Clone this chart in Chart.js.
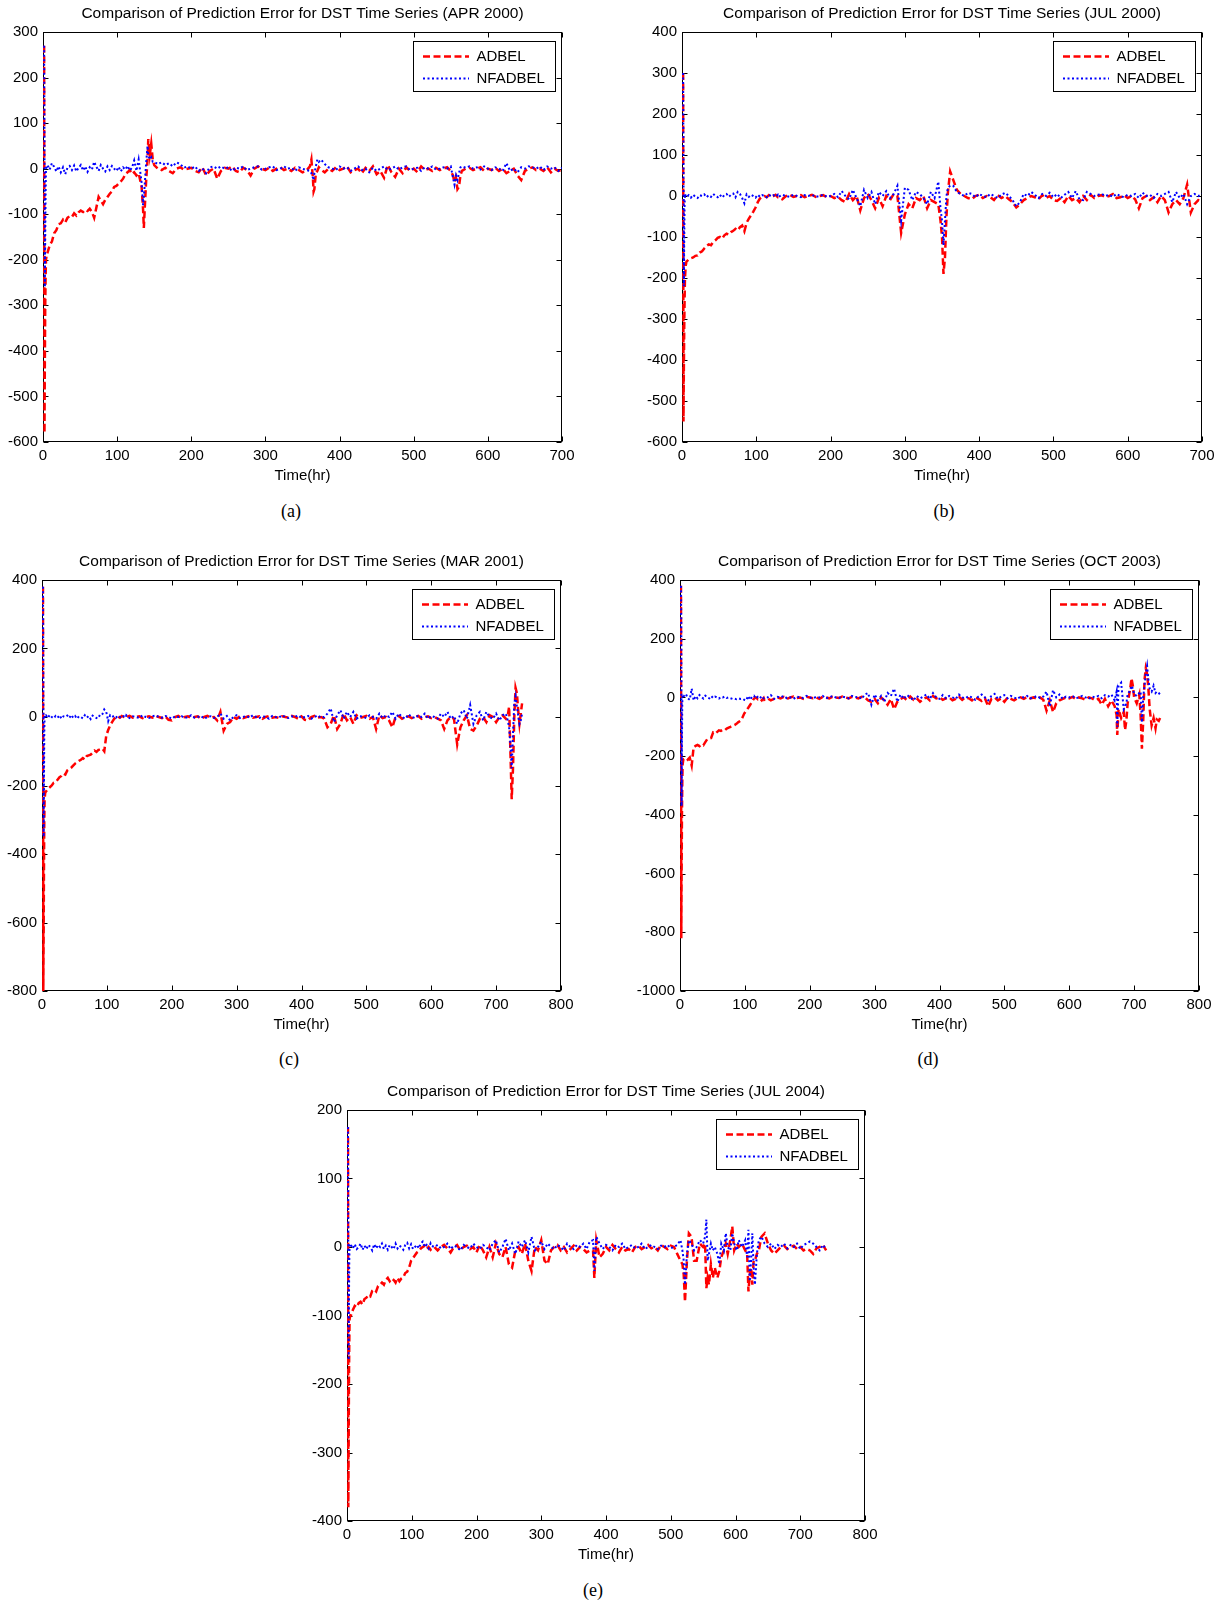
<!DOCTYPE html>
<html>
<head>
<meta charset="utf-8">
<title>Comparison of Prediction Error for DST Time Series</title>
<script src="https://cdn.jsdelivr.net/npm/chart.js@4.4.1/dist/chart.umd.min.js"></script>
<style>
  html, body { margin: 0; padding: 0; background: #fff; }
  body { width: 1224px; height: 1603px; position: relative; overflow: hidden; }
  canvas { position: absolute; }
  .caption {
    position: absolute;
    font-family: "Liberation Serif", "DejaVu Serif", serif;
    font-size: 18px;
    color: #000;
    transform: translate(-50%, -50%);
  }
</style>
</head>
<body>
<canvas id="chartA" width="591" height="494" style="left:-7px;top:-2px"></canvas>
<canvas id="chartB" width="592" height="494" style="left:632px;top:-2px"></canvas>
<canvas id="chartC" width="591" height="495" style="left:-8px;top:546px"></canvas>
<canvas id="chartD" width="591" height="495" style="left:630px;top:546px"></canvas>
<canvas id="chartE" width="590" height="495" style="left:297px;top:1076px"></canvas>

<div class="caption" style="left:291px;top:511px">(a)</div>
<div class="caption" style="left:944px;top:511px">(b)</div>
<div class="caption" style="left:289px;top:1059px">(c)</div>
<div class="caption" style="left:928px;top:1059px">(d)</div>
<div class="caption" style="left:593px;top:1590px">(e)</div>

<script>
// ---- tick labels ----
const xTicks700 = [0, 100, 200, 300, 400, 500, 600, 700];
const xTicks800 = [0, 100, 200, 300, 400, 500, 600, 700, 800];
const yTicksA = [-600, -500, -400, -300, -200, -100, 0, 100, 200, 300];
const yTicksB = [-600, -500, -400, -300, -200, -100, 0, 100, 200, 300, 400];
const yTicksC = [-800, -600, -400, -200, 0, 200, 400];
const yTicksD = [-1000, -800, -600, -400, -200, 0, 200, 400];
const yTicksE = [-400, -300, -200, -100, 0, 100, 200];

// ---- (a) APR 2000 ----
const hoursA = [1.5, 2, 2.5, 3, 3.5, 4, 5,
  6, 9, 12, 15, 18, 21, 24, 27, 30, 33,
  36, 39, 42, 45, 48, 51, 54, 57, 60, 63,
  66, 69, 72, 75, 78, 81, 84, 87, 90, 93,
  96, 99, 102, 105, 108, 111, 114, 117, 120, 123,
  126, 129,
  133, 135, 136, 137, 139, 141, 142, 144, 146, 148, 150,
  155, 160, 165, 170, 175, 180, 185, 190, 195, 200,
  205, 210, 215, 220, 225, 230, 235, 240, 245, 250,
  255, 260, 265, 270, 275, 280, 285, 290, 295, 300,
  305, 310, 315, 320, 325, 330, 335, 340, 345, 350,
  355, 360,
  362, 364, 365, 366, 368, 370, 372, 375,
  380, 385, 390, 395, 400, 405, 410, 415, 420, 425,
  430, 435, 440, 445, 450, 455, 460, 465, 470, 475,
  480, 485, 490, 495, 500, 505, 510, 515, 520, 525,
  530, 535, 540, 545, 550,
  553, 555, 557, 559, 561, 563, 565,
  570, 575, 580, 585, 590, 595, 600, 605, 610, 615,
  620, 625, 630, 635, 640, 645, 650, 655, 660, 665,
  670, 675, 680, 685, 690, 695, 700];
const adbelA = [270, -580, -420, -300, -240, -200, -190,
  -185, -168, -160, -142, -135, -122, -120, -112, -118, -108,
  -104, -106, -98, -103, -96, -92, -95, -90, -93, -88,
  -95, -108, -85, -62, -70, -78, -68, -62, -55, -50,
  -40, -38, -33, -28, -22, -12, -8, -3, -12, -8,
  -15, -10,
  -40, -90, -130, -95, -30, 20, 65, 30, 55, 20, 8,
  0, -3, 2, -5, -10, 0, 3, -2, 0, 2,
  -5, -8, 3, -15, -5, 0, -22, -5, 2, 0,
  5, -5, -8, 2, -3, -15, 0, 5, 0, -3,
  2, -5, 0, 3, -3, 0, -5, 2, -3, -8,
  -5, 5,
  20, -20, -50, -45, -10, -5, 3, -2,
  -8, 0, -5, 3, -3, 0, 5, -8, -3, 0,
  -10, 2, -5, 5, -12, -5, -20, 8, -8, -18,
  0, -10, 3, -5, 0, -8, 5, -3, 0, -5,
  2, -3, 0, 3, -5,
  -15, -30, -20, -45, -40, -15, -5,
  0, 2, -3, 0, 3, -5, 0, -3, 2, -5,
  0, -10, -5, 0, -15, -25, -5, 0, 3, -3,
  0, -5, 3, -8, 0, -5, -3];
const nfadbelA = [270, 60, -260, -150, -60, 0, 5,
  8, -2, 12, 4, -6, 5, -8, 3, -12, 2,
  6, -3, 7, -6, 2, 8, -4, 5, -7, 3,
  -2, 15, 4, -5, 8, 0, -6, 5, -3, 6,
  0, -5, 4, -6, 3, -2, 6, -4, 2, 18,
  -5, 20,
  -30, -80, -60, -40, 10, 50, 30, 20, 25, 15, 15,
  10, 14, 8, 12, 5, 14, 10, 2, 5, 0,
  5, -5, 0, -10, 3, 5, 0, 5, 0, 3,
  -5, 2, 0, 5, -3, 0, 3, 5, -2, 0,
  3, 5, -3, 0, 5, 0, 2, -5, 3, 0,
  -3, -5,
  -10, -20, -25, -10, 5, 20, 15, 20,
  10, 3, 0, -3, 5, 0, 3, -5, 0, 5,
  -3, 0, -8, 2, -5, 0, 5, -3, 0, 5,
  -2, 3, 5, -3, 0, 2, -5, 3, 0, 5,
  -2, 0, 3, 0, 5,
  -20, -35, -15, -25, -10, 3, 5,
  2, 5, 0, 3, -2, 5, 0, -3, 3, 0,
  -5, 12, -5, 0, -8, 3, 0, 5, 3, 0,
  5, -3, 5, 0, 3, -5, 2];

// ---- (b) JUL 2000 ----
const hoursB = [1.5, 2, 2.5, 3, 3.5, 4, 5,
  6, 9, 12, 15, 18, 21, 24, 27, 30, 33,
  36, 39, 42, 45, 48, 51, 54, 57, 60, 63,
  66, 69, 72, 75, 78, 81, 84, 87, 90, 93,
  96, 99, 102, 105, 108, 111, 114, 117, 120, 123,
  126, 129,
  130, 135, 140, 145, 150, 155,
  160, 165, 170, 175, 180, 185, 190, 195, 200, 205,
  210, 215, 220, 225, 230, 235, 240, 245, 250, 255,
  260, 265, 270, 275, 280, 285, 290, 295, 300, 305,
  310, 315, 320, 325, 330, 335, 340, 345,
  348, 350, 352, 354, 356, 358, 361, 363,
  365, 370, 375, 380, 385, 390, 395, 400, 405, 410,
  415, 420, 425, 430, 435, 440, 445, 450, 455, 460,
  465, 470, 475, 480, 485, 490, 495, 500, 505, 510,
  515, 520, 525, 530, 535, 540, 545, 550, 555, 560,
  565, 570, 575, 580, 585, 590, 595, 600, 605, 610,
  615, 620, 625, 630, 635, 640, 645, 650, 655, 660,
  665, 670, 675, 680, 685, 690, 695, 700];
const adbelB = [300, -550, -420, -320, -250, -200, -170,
  -160, -155, -152, -150, -146, -145, -138, -135, -128, -122,
  -118, -120, -112, -108, -102, -100, -104, -96, -92, -94,
  -88, -85, -80, -84, -76, -72, -86, -65, -55, -47,
  -38, -28, -15, -6, -2, 0, -3, 2, -2, 0,
  3, -3,
  -3, -8, 0, 3, -2, 0,
  2, -3, 0, 3, -2, 0, 2, -3, 0, -5,
  -2, -10, -15, 5, -10, 0, -35, -5, 5, -10,
  -30, -5, -25, 0, -10, 5, 0, -90, -45, -20,
  -30, -5, -10, 0, -30, -10, -15, -20,
  -60, -100, -190, -150, -50, 10, 60, 50,
  40, 15, 5, 0, -5, -8, 0, 3, -5, 0,
  -3, -10, 2, -5, 0, -8, -15, -28, -20, -10,
  -5, 0, -3, -8, 2, -5, 0, -10, -12, -5,
  -15, 0, -10, -5, -15, 0, -10, 3, -5, 0,
  2, -3, 0, 5, -5, -3, 2, -5, 0, -8,
  -30, -5, 0, -10, -3, -15, 0, -10, -40, -20,
  -10, -20, -5, 28, -40, -20, -10, -12];
const nfadbelB = [300, 80, -220, -100, -20, 5, 0,
  -3, 2, -4, 3, -2, -5, 2, 0, 4, -3,
  2, -2, 5, 0, -3, 3, -4, 2, 5, -2,
  3, 6, -3, 10, 5, -5, -18, 4, -2, 3,
  0, -4, 3, -2, 2, 0, -3, 3, -1, 2,
  -2, 3,
  -2, 3, 0, -2, 3, 0,
  -3, 2, 0, 3, -2, 0, 3, -2, 0, 5,
  -3, 12, 0, -8, 15, -5, -25, 15, -5, 10,
  -20, 10, 0, 12, -5, 5, 25, -60, 20, 15,
  -10, 10, 5, -5, -20, 10, -5, 35,
  -30, -60, -120, -60, 0, 20, 25, 25,
  25, 10, 5, 0, 8, 5, -3, 5, 0, -3,
  5, 0, -5, 3, 8, 0, -10, -25, -15, 5,
  0, 10, 3, -5, 5, 0, 8, -3, 5, -5,
  3, 10, -5, 12, -8, -10, 10, 5, 0, 3,
  5, 0, 3, -2, 5, 0, -3, 3, 0, 5,
  -5, 8, 0, 3, -5, 5, 0, 5, 10, -15,
  10, -5, 5, -20, 0, 5, 0, 5];

// ---- (c) MAR 2001 ----
const hoursC = [1.5, 2, 2.5, 3, 3.5, 4, 5,
  6, 9, 12, 15, 18, 21, 24, 27, 30, 33,
  36, 39, 42, 45, 48, 51, 54, 57, 60, 63,
  66, 69, 72, 75, 78, 81, 84, 87, 90, 93,
  96, 99, 102, 105, 108, 111, 114, 117, 120, 123,
  126, 129,
  130, 135, 140, 145, 150, 155,
  160, 165, 170, 175, 180, 185, 190, 195, 200, 205,
  210, 215, 220, 225, 230, 235, 240, 245, 250, 255,
  260, 265, 270, 275, 280, 285, 290, 295, 300, 305,
  310, 315, 320, 325, 330, 335, 340, 345, 350, 355,
  360, 365, 370, 375, 380, 385, 390, 395, 400, 405,
  410, 415, 420, 425, 430, 435, 440, 445, 450, 455,
  460, 465, 470, 475, 480, 485, 490, 495, 500, 505,
  510, 515, 520, 525, 530, 535, 540, 545, 550, 555,
  560, 565, 570, 575, 580, 585, 590, 595, 600, 605,
  610, 615, 620, 625, 630, 635, 640, 645, 650, 655,
  660, 665, 670, 675, 680, 685, 690, 695, 700, 705,
  710, 715,
  718, 720, 722, 724, 726, 728, 730, 732, 734, 736, 738, 740];
const adbelC = [380, -800, -650, -450, -300, -240, -220,
  -218, -210, -205, -200, -192, -190, -183, -176, -172, -165,
  -168, -156, -152, -148, -142, -136, -132, -128, -125, -120,
  -124, -114, -112, -110, -104, -98, -102, -96, -95, -92,
  -100, -55, -38, -25, -15, -6, 0, 2, -2, 3,
  0, 2,
  0, 3, -2, 0, 2, -3,
  0, 2, -2, 3, 0, -3, 2, -8, -10, 0,
  3, -3, 0, 2, -3, 0, 2, -5, 0, 3,
  -2, 0, -10, 15, -40, -20, -15, 0, -5, 2,
  -3, 0, 3, -2, 0, 2, -5, 0, 3, -2,
  0, -3, 2, 0, -2, 3, 0, -5, 2, -8,
  -10, 0, 3, -2, 0, -5, -30, -20, 5, -35,
  -20, 10, -10, 0, -20, 5, -3, 0, 3, -5,
  0, -35, 5, -3, 0, -10, -30, 0, 3, -5,
  0, 2, -3, 0, 3, -5, 0, 2, -3, 0,
  -5, -10, -35, -10, 0, -5, -80, -30, -10, 5,
  -35, -40, -25, -5, 0, -15, 5, 0, -15, 0,
  5, -5,
  5, 30, -100, -240, -150, 0, 85, 70, 20, -20, 10, 40];
const nfadbelC = [380, 150, -350, -200, -50, 5, 3,
  5, -3, 6, 0, -4, 3, -2, 5, -5, 2,
  0, 4, -3, 6, -2, 3, -5, 2, 0, -4,
  5, -2, 3, -6, 4, 0, -3, 5, 2, 8,
  22, 15, -12, 5, 0, 3, -2, 4, 0, -3,
  2, -2,
  5, -3, 2, 0, -3, 5,
  0, -3, 2, 5, 0, -2, 3, 0, -5, 2,
  0, 3, -3, 0, 5, -2, 0, 3, -5, 0,
  2, -3, 0, 10, -5, 3, -10, 0, 5, -3,
  0, 3, -2, 5, 0, -3, 2, 0, -5, 3,
  0, -2, 5, 0, -3, 2, 0, 5, -3, 0,
  3, -5, 0, 5, -2, 0, 10, 25, -15, 5,
  20, -5, 15, 0, 15, -5, 3, 0, -3, 5,
  0, -5, 10, -3, 5, 0, 15, -5, 10, 0,
  -5, 8, 0, -3, 5, 0, 10, -5, 3, 0,
  -5, 10, 0, 15, -5, 3, -20, 10, 20, -5,
  35, -20, 5, 15, -10, 15, 0, -5, 10, -10,
  5, 10,
  -10, -30, -80, -150, -50, 40, 60, 30, 5, -20, -10, 10];

// ---- (d) OCT 2003 ----
const hoursD = [1.5, 2, 2.5, 3, 3.5, 4, 5,
  6, 9, 12, 15, 18, 21, 24, 27, 30, 33,
  36, 39, 42, 45, 48, 51, 54, 57, 60, 63,
  66, 69, 72, 75, 78, 81, 84, 87, 90, 93,
  96, 99, 102, 105, 108, 111, 114, 117, 120, 123,
  126, 129,
  130, 135, 140, 145, 150, 155, 160, 165, 170,
  175, 180, 185, 190, 195, 200, 205, 210, 215, 220,
  225, 230, 235, 240, 245, 250, 255, 260, 265, 270,
  275, 280, 285, 290, 295, 300, 305, 310, 315, 320,
  325, 330, 335, 340, 345, 350, 355, 360, 365, 370,
  375, 380, 385, 390, 395, 400, 405, 410, 415, 420,
  425, 430, 435, 440, 445, 450, 455, 460, 465, 470,
  475, 480, 485, 490, 495, 500, 505, 510, 515, 520,
  525, 530, 535, 540, 545, 550, 555, 560, 565, 570,
  575, 580, 585, 590, 595, 600, 605, 610, 615, 620,
  625, 630, 635, 640, 645, 650, 655, 660, 665, 670,
  673, 674, 676, 680, 684, 686, 688, 690, 694, 696, 698, 700, 704, 708,
  710, 712, 714, 716, 718, 720, 722, 724, 727, 730, 733, 735, 738, 740];
const adbelD = [380, -820, -600, -400, -290, -230, -212,
  -210, -206, -212, -205, -232, -170, -165, -162, -166, -160,
  -163, -152, -142, -140, -138, -120, -124, -118, -112, -114,
  -110, -112, -106, -103, -100, -97, -94, -90, -84, -80,
  -70, -55, -45, -36, -26, -15, -4, 0, -6, -3,
  -10, -2,
  -8, -3, -10, -5, 0, -3, 2, -5, 0,
  3, -2, 0, -5, 2, 0, -3, 0, -5, 2,
  0, -3, 2, 0, -2, 3, 0, -3, 2, 0,
  -3, 2, 0, -10, -15, -5, -20, 0, -10, -25,
  -5, -40, -15, -5, 0, -10, 3, -8, -3, -15,
  -5, 0, -10, 5, -3, 0, -8, -3, 0, -10,
  -5, 2, -8, 0, -3, -10, 0, -5, -12, -3,
  -30, -5, 0, -10, -3, -15, 0, -5, -10, -3,
  0, -5, 2, -3, 0, -5, 0, -8, -45, -10,
  -50, -20, -10, -5, 0, -3, 2, -5, 0, -3,
  -8, 0, -3, -10, -5, -25, -5, -30, -10, -30,
  -60, -128, -40, -70, -50, -111, -80, -20, 30, 65, 40, 0, -20, 10,
  -60, -175, -80, 60, 99, 80, 30, -40, -95, -70, -105, -75, -80, -70];
const nfadbelD = [380, 250, -370, -150, -20, 10, 5,
  5, 12, -3, -8, 30, -10, 5, -3, 8, 2,
  -4, 6, 0, -3, 5, -2, 3, 0, -4, 2,
  0, 3, -2, 0, -3, -5, -4, -6, -3, -5,
  -4, -8, -10, 5, -8, 3, 6, -4, 2, -3,
  5, -3,
  -3, 0, 8, -5, 2, 0, 5, -3, 0,
  -5, 3, 0, -2, 5, 0, -3, 2, 0, 5,
  -3, 0, 5, 0, -2, 3, 0, -3, 5, 0,
  3, -5, 10, 15, -25, 10, -10, 5, -15, 15,
  5, 30, -15, 10, -5, 8, 0, -10, 5, -3,
  3, 10, -5, 15, 0, -5, 8, -3, 5, 0,
  -5, 10, 0, -3, 5, 0, -8, 3, 10, 0,
  -10, 5, 12, -5, 3, 8, -3, 5, 0, -5,
  3, 0, 5, -3, 0, 5, -2, 3, 20, -30,
  25, 0, 10, -5, 3, 0, 5, -3, 0, 5,
  0, -5, 3, 0, 5, -3, 8, 3, 10, -10,
  20, -100, 40, 50, -40, -30, -20, 10, 25, 40, 30, 10, 5, 15,
  20, -85, 0, 40, 80, 107, 60, 30, 20, 40, 15, 20, 15, 10];

// ---- (e) JUL 2004 ----
const hoursE = [1.5, 2, 2.5, 3, 3.5, 4, 5,
  6, 9, 12, 15, 18, 21, 24, 27, 30, 33,
  36, 39, 42, 45, 48, 51, 54, 57, 60, 63,
  66, 69, 72, 75, 78, 81, 84, 87, 90, 93,
  96, 99, 102, 105, 108, 111, 114, 117, 120, 123,
  126, 129,
  130, 135, 140, 145, 150, 155,
  160, 165, 170, 175, 180, 185, 190, 195, 200, 205,
  210, 215, 220, 225, 230, 235, 240, 245, 250, 255,
  260, 265, 270, 275, 280, 285, 290, 295, 300, 305,
  310, 315, 320, 325, 330, 335, 340, 345, 350, 355,
  360, 365, 370, 375,
  380, 382, 385,
  390, 395, 400, 405, 410, 415, 420, 425, 430, 435,
  440, 445, 450, 455, 460, 465, 470, 475, 480, 485,
  490, 495, 500, 505, 510, 515,
  518, 520, 522, 525, 528, 532, 536, 540, 545, 550,
  553, 555, 557, 559, 562, 565, 568, 572, 575, 578,
  582, 585, 588, 592, 595, 598, 602, 605, 610, 615,
  618, 620, 622, 624, 626, 628, 630, 633, 636, 640, 645,
  650, 655, 660, 665, 670, 675, 680, 685, 690, 695,
  700, 705, 710, 715, 720, 725, 730, 735, 740];
const adbelE = [175, -380, -300, -200, -140, -105, -100,
  -100, -92, -86, -88, -82, -80, -84, -76, -74, -70,
  -72, -64, -62, -65, -57, -55, -52, -55, -48, -45,
  -50, -46, -48, -52, -45, -50, -46, -44, -38, -36,
  -30, -20, -16, -12, -8, -6, -2, 0, 2, -3,
  0, -4,
  -3, 0, -5, 0, 3, -2,
  -8, 0, 3, -5, 0, 2, -3, 0, -8, 3,
  -5, -15, 0, -15, 5, -10, -15, 0, -25, -30,
  -5, 0, -10, 5, -20, -35, 0, -5, 10, -20,
  -25, -5, 0, 3, -5, 0, -8, -3, 2, -5,
  0, -3, -8, -5,
  -5, -45, 10,
  -15, -10, 0, -5, 3, -3, -8, 0, -5, -3,
  -8, 0, 2, -3, 0, 3, -2, 0, -5, 3,
  0, -3, 2, 0, -10, -20,
  -25, -40, -80, -20, 20, 15, -20, -20, 5, 0,
  5, -60, -45, -55, -25, -45, -30, -45, -35, -15,
  -5, 5, -10, 10, 30, -5, 5, 0, 5, -5,
  -10, -65, -40, -30, -55, -20, -20, -10, -5, 15, 20,
  5, -5, -10, -5, 0, 2, -3, 0, 2, -3,
  0, -5, -3, -5, -10, -2, 0, 3, -5];
const nfadbelE = [175, 0, -165, -80, -20, 3, 5,
  3, -2, 4, -3, 0, 5, -4, 2, -3, 3,
  0, -5, 4, -2, 3, 0, 5, -3, 2, -4,
  3, 0, -3, 5, -2, 2, 0, -4, 3, 6,
  -2, 4, -3, 0, 3, -2, 5, 8, 0, 3,
  -2, 5,
  2, 0, 3, -2, 0, 5,
  -3, 2, 0, -5, 3, 0, -2, 5, 0, -3,
  3, 0, -5, 5, 10, -8, 0, 12, -5, 5,
  -10, 8, 0, 10, -8, 15, -5, 0, 8, -3,
  5, 0, -3, 3, 0, -5, 5, 0, -3, 3,
  0, 5, -3, 8,
  10, -35, 15,
  5, -3, 3, 0, -5, 3, 0, 5, -3, 0,
  3, -2, 0, 5, -3, 0, 3, 0, -3, 2,
  0, 3, -2, 0, 3, 10,
  -5, -20, -55, -10, 10, 5, -5, 0, 10, 5,
  15, 40, -20, -10, 5, -5, 0, -10, -25, 5,
  -5, 20, 0, -5, 20, 5, -5, 10, 0, 10,
  -15, 25, -50, -20, 20, -30, -55, -10, 10, 15, 5,
  0, 5, -3, 3, 0, 5, -2, 3, 0, 5,
  -3, 3, 5, 8, 5, 0, -5, 3, -3];

const seriesNames = ['ADBEL', 'NFADBEL'];

const panels = [
  { id: 'chartA', title: 'Comparison of Prediction Error for DST Time Series (APR 2000)',
    hours: hoursA, adbel: adbelA, nfadbel: nfadbelA, xTicks: xTicks700, yTicks: yTicksA },
  { id: 'chartB', title: 'Comparison of Prediction Error for DST Time Series (JUL 2000)',
    hours: hoursB, adbel: adbelB, nfadbel: nfadbelB, xTicks: xTicks700, yTicks: yTicksB },
  { id: 'chartC', title: 'Comparison of Prediction Error for DST Time Series (MAR 2001)',
    hours: hoursC, adbel: adbelC, nfadbel: nfadbelC, xTicks: xTicks800, yTicks: yTicksC },
  { id: 'chartD', title: 'Comparison of Prediction Error for DST Time Series (OCT 2003)',
    hours: hoursD, adbel: adbelD, nfadbel: nfadbelD, xTicks: xTicks800, yTicks: yTicksD },
  { id: 'chartE', title: 'Comparison of Prediction Error for DST Time Series (JUL 2004)',
    hours: hoursE, adbel: adbelE, nfadbel: nfadbelE, xTicks: xTicks800, yTicks: yTicksE }
];

const FONT = '"Liberation Sans", Arial, Helvetica, sans-serif';
Chart.defaults.font.family = FONT;
Chart.defaults.color = '#000';

// Matlab-like axes: box on all four sides with inward ticks (under the data),
// boxed legend in the top right corner (over the data)
const matlabAxes = {
  id: 'matlabAxes',
  beforeDatasetsDraw(chart) {
    const { ctx, chartArea: a } = chart;
    const xs = chart.scales.x, ys = chart.scales.y;
    const left = Math.round(a.left) + 0.5, right = Math.round(a.right) - 0.5;
    const top = Math.round(a.top) + 0.5, bottom = Math.round(a.bottom) - 0.5;
    ctx.save();
    ctx.strokeStyle = '#000';
    ctx.lineWidth = 1;
    ctx.setLineDash([]);
    ctx.strokeRect(left, top, right - left, bottom - top);
    ctx.beginPath();
    xs.ticks.forEach(t => {
      const px = Math.round(xs.getPixelForValue(t.value)) + 0.5;
      ctx.moveTo(px, bottom); ctx.lineTo(px, bottom - 5);
      ctx.moveTo(px, top); ctx.lineTo(px, top + 5);
    });
    ys.ticks.forEach(t => {
      const py = Math.round(ys.getPixelForValue(t.value)) + 0.5;
      ctx.moveTo(left, py); ctx.lineTo(left + 5, py);
      ctx.moveTo(right, py); ctx.lineTo(right - 5, py);
    });
    ctx.stroke();
    ctx.restore();
  },
  afterDatasetsDraw(chart) {
    const { ctx, chartArea: a } = chart;
    const w = 142, h = 50;
    const bx = Math.round(a.right - 7 - w) + 0.5, by = Math.round(a.top + 9) + 0.5;
    ctx.save();
    ctx.fillStyle = '#fff';
    ctx.fillRect(bx, by, w, h);
    ctx.strokeStyle = '#000';
    ctx.lineWidth = 1;
    ctx.setLineDash([]);
    ctx.strokeRect(bx, by, w, h);
    ctx.font = '15px ' + FONT;
    ctx.textBaseline = 'middle';
    ctx.textAlign = 'left';
    chart.data.datasets.forEach((ds, i) => {
      const ly = Math.round(by + 14 + i * 22.5) + 0.5;
      ctx.strokeStyle = ds.borderColor;
      ctx.lineWidth = ds.borderWidth;
      ctx.setLineDash(ds.borderDash);
      ctx.beginPath();
      ctx.moveTo(bx + 9.5, ly);
      ctx.lineTo(bx + 55.5, ly);
      ctx.stroke();
      ctx.fillStyle = '#000';
      ctx.fillText(ds.label, bx + 63, ly);
    });
    ctx.restore();
  }
};

function makeChart(p) {
  if (p.hours.length !== p.adbel.length || p.hours.length !== p.nfadbel.length) {
    console.error(p.id + ' length mismatch', p.hours.length, p.adbel.length, p.nfadbel.length);
  }
  const ctx = document.getElementById(p.id).getContext('2d');
  return new Chart(ctx, {
    type: 'line',
    data: {
      datasets: [
        {
          label: seriesNames[0],
          data: p.hours.map((h, i) => ({ x: h, y: p.adbel[i] })),
          borderColor: '#ff0000',
          borderWidth: 2.5,
          borderDash: [7, 3.5],
          pointRadius: 0,
          tension: 0,
          order: 2
        },
        {
          label: seriesNames[1],
          data: p.hours.map((h, i) => ({ x: h, y: p.nfadbel[i] })),
          borderColor: '#0000ff',
          borderWidth: 2,
          borderDash: [2, 2.5],
          pointRadius: 0,
          tension: 0,
          order: 1
        }
      ]
    },
    options: {
      responsive: false,
      animation: false,
      layout: { padding: { left: 0, right: 22, top: 0, bottom: 0 } },
      plugins: {
        legend: { display: false },
        tooltip: { enabled: false },
        title: {
          display: true,
          text: p.title,
          fullSize: false,
          color: '#000',
          font: { size: 15.5, weight: 'normal' },
          padding: { top: 6.7, bottom: 8.7 }
        }
      },
      scales: {
        x: {
          type: 'linear',
          min: p.xTicks[0],
          max: p.xTicks[p.xTicks.length - 1],
          afterBuildTicks: s => { s.ticks = p.xTicks.map(v => ({ value: v })); },
          afterFit: s => { s.height = 50; },
          grid: { display: false, drawTicks: false },
          border: { display: false },
          ticks: { autoSkip: false, maxRotation: 0, padding: 5, color: '#000', font: { size: 15 }, callback: v => String(v) },
          title: { display: true, text: 'Time(hr)', color: '#000', font: { size: 15 }, padding: { top: 0, bottom: 7 } }
        },
        y: {
          type: 'linear',
          min: p.yTicks[0],
          max: p.yTicks[p.yTicks.length - 1],
          afterBuildTicks: s => { s.ticks = p.yTicks.map(v => ({ value: v })); },
          afterFit: s => { s.width = 50; },
          grid: { display: false, drawTicks: false },
          border: { display: false },
          ticks: { autoSkip: false, padding: 5, color: '#000', font: { size: 15 }, callback: v => String(v) }
        }
      }
    },
    plugins: [matlabAxes]
  });
}

panels.forEach(makeChart);
</script>
</body>
</html>
